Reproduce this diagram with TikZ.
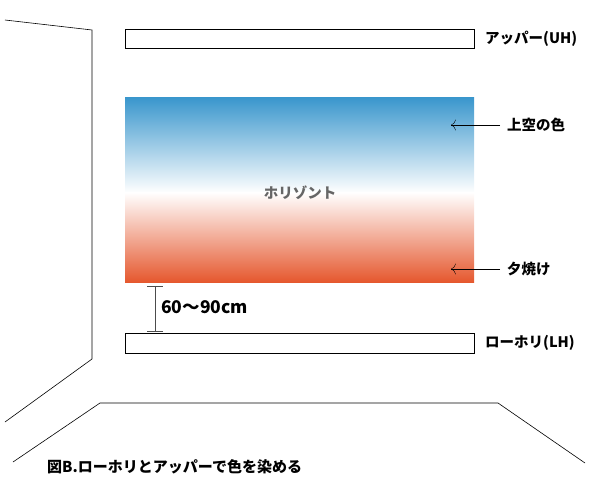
\documentclass[tikz,border=0pt]{standalone}
\usepackage{fontspec}
\setmainfont{Noto Sans CJK JP}
\usetikzlibrary{arrows.meta}
\definecolor{skyblue}{HTML}{3B97CD}
\definecolor{sunset}{HTML}{E5562C}
\definecolor{horgray}{HTML}{666666}
\begin{document}
\begin{tikzpicture}[x=1pt,y=-1pt,
    lbl/.style={font=\bfseries\fontsize{14.5}{15}\selectfont,anchor=west,inner sep=0pt},
    bar/.style={draw,line width=0.9pt},
    pointer/.style={-{To[length=5pt,width=11pt]},shorten <=7pt}]
  \useasboundingbox (0,0) rectangle (590,484);
  \draw[line width=0.6pt] (5,20) -- (92,30) -- (92,359) -- (5,422);
  \draw[line width=0.6pt] (13,462) -- (100,403) -- (498,403) -- (585,463);
  \draw[bar] (125,29) rectangle (474,48);
  \node[lbl] (uh) at (485,39) {アッパー(UH)};
  \shade[top color=skyblue, bottom color=white] (125,98) rectangle (474,193);
  \shade[top color=white, bottom color=sunset] (125,192.5) rectangle (474,283);
  \node[lbl,anchor=center,text=horgray] (hor) at (300,193) {ホリゾント};
  \node[lbl] (sky) at (507,125) {上空の色};
  \coordinate (skytip) at (451,125);
  \draw[pointer] (sky.west) -- (skytip);
  \node[lbl] (dusk) at (507,269) {夕焼け};
  \coordinate (dusktip) at (451,269);
  \draw[pointer] (dusk.west) -- (dusktip);
  \coordinate (gaptop) at (155,286);
  \coordinate (gapbot) at (155,331);
  \draw[gray!60!black,{Bar[width=16pt]}-{Bar[width=16pt]}] (gaptop) -- (gapbot);
  \node[lbl,font=\bfseries\fontsize{17.5}{18}\selectfont] (gap) at (161,307) {60〜90cm};
  \draw[bar] (125,333) rectangle (474,353);
  \node[lbl] (lh) at (485,343) {ローホリ(LH)};
  \node[lbl,font=\bfseries\fontsize{15}{16}\selectfont] (cap) at (47,467) {図B.ローホリとアッパーで色を染める};
\end{tikzpicture}
\end{document}
